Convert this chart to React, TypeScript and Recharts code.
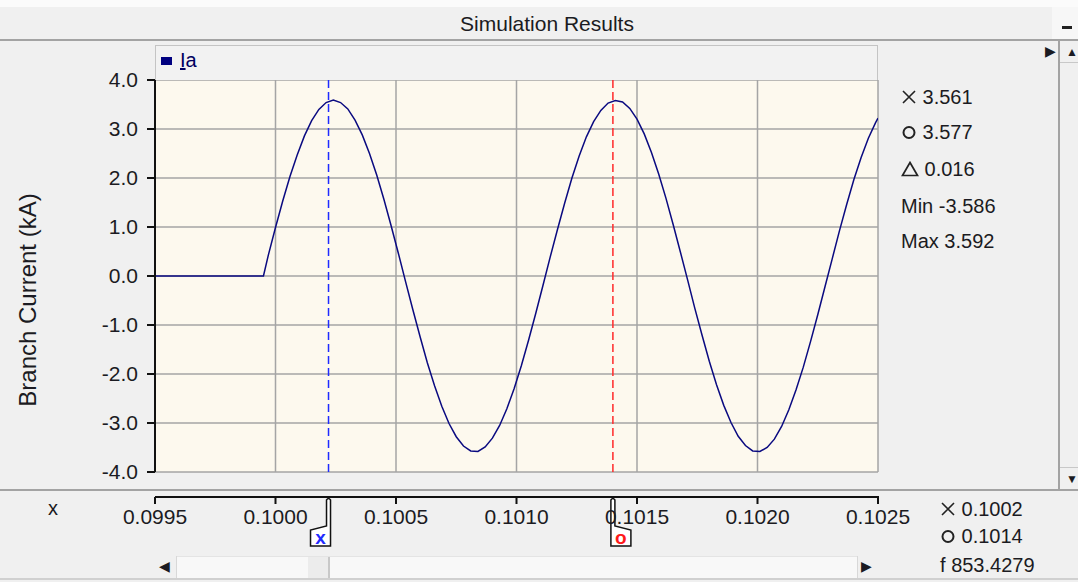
import React from "react";
import {
  LineChart,
  Line,
  XAxis,
  YAxis,
  CartesianGrid,
  ReferenceLine,
  Legend,
} from "recharts";

// time axis (s)
const timeS = [
  0.0995, 0.09995, 0.09997, 0.1, 0.10003, 0.10006, 0.10009, 0.10012, 0.10015,
  0.10018, 0.10021, 0.10024, 0.10027, 0.1003, 0.10033, 0.10036, 0.10039,
  0.10042, 0.10045, 0.10048, 0.10051, 0.10054, 0.10057, 0.1006, 0.10063,
  0.10066, 0.10069, 0.10072, 0.10075, 0.10078, 0.10081, 0.10084, 0.10087,
  0.1009, 0.10093, 0.10096, 0.10099, 0.10102, 0.10105, 0.10108, 0.10111,
  0.10114, 0.10117, 0.1012, 0.10123, 0.10126, 0.10129, 0.10132, 0.10135,
  0.10138, 0.10141, 0.10144, 0.10147, 0.1015, 0.10153, 0.10156, 0.10159,
  0.10162, 0.10165, 0.10168, 0.10171, 0.10174, 0.10177, 0.1018, 0.10183,
  0.10186, 0.10189, 0.10192, 0.10195, 0.10198, 0.10201, 0.10204, 0.10207,
  0.1021, 0.10213, 0.10216, 0.10219, 0.10222, 0.10225, 0.10228, 0.10231,
  0.10234, 0.10237, 0.1024, 0.10243, 0.10246, 0.10249, 0.1025,
];

// Ia branch current (kA)
const currentKA = [
  0, 0, 0.42, 0.99, 1.53, 2.03, 2.47, 2.86, 3.17, 3.4, 3.54, 3.59, 3.54, 3.41,
  3.18, 2.88, 2.5, 2.06, 1.56, 1.02, 0.46, -0.12, -0.69, -1.24, -1.77, -2.24,
  -2.66, -3.01, -3.28, -3.47, -3.57, -3.58, -3.49, -3.31, -3.05, -2.71, -2.3,
  -1.83, -1.31, -0.76, -0.19, 0.39, 0.95, 1.49, 2.0, 2.45, 2.84, 3.15, 3.38,
  3.53, 3.58, 3.55, 3.42, 3.2, 2.9, 2.52, 2.08, 1.59, 1.05, 0.49, -0.08,
  -0.66, -1.21, -1.74, -2.22, -2.64, -2.99, -3.27, -3.46, -3.57, -3.58, -3.5,
  -3.33, -3.07, -2.73, -2.32, -1.86, -1.34, -0.79, -0.22, 0.35, 0.92, 1.46,
  1.97, 2.42, 2.81, 3.13, 3.22,
];

const xTicks = [0.0995, 0.1, 0.1005, 0.101, 0.1015, 0.102, 0.1025];
const yTicks = [-4, -3, -2, -1, 0, 1, 2, 3, 4];

// cursor positions: x cursor and o cursor
const cursorX = 0.10022;
const cursorO = 0.1014;

const valueReadouts = [
  ["cross", "3.561"],
  ["circle", "3.577"],
  ["delta", "0.016"],
  ["Min", "-3.586"],
  ["Max", "3.592"],
];
const timeReadouts = [
  ["cross", "0.1002"],
  ["circle", "0.1014"],
  ["f", "853.4279"],
];

const data = timeS.map((t, i) => ({ t, Ia: currentKA[i] }));

const FONT = '"Liberation Sans", Arial, sans-serif';
const TXT = "#1b1b22";
const EDGE = "#a3a3a3";

function Glyph({ kind }: { kind: string }) {
  if (kind === "cross")
    return (
      <svg width={16} height={16} style={{ verticalAlign: "-1px" }}>
        <path d="M2,2 L14,14 M14,2 L2,14" stroke="#222" strokeWidth={1.6} />
      </svg>
    );
  if (kind === "circle")
    return (
      <svg width={16} height={16} style={{ verticalAlign: "-1px" }}>
        <circle cx={8} cy={8.5} r={5.5} fill="none" stroke="#222" strokeWidth={2} />
      </svg>
    );
  if (kind === "delta")
    return (
      <svg width={18} height={16} style={{ verticalAlign: "-1px" }}>
        <path d="M9,1.5 L16.5,14.5 L1.5,14.5 Z" fill="none" stroke="#222" strokeWidth={1.7} />
      </svg>
    );
  return <span>{kind}</span>;
}

function XTick({ x, y, payload }: any) {
  const y0 = y + 25;
  return (
    <g>
      <line x1={x} x2={x} y1={y0} y2={y0 + 7} stroke="#111" strokeWidth={2} />
      <text
        x={x}
        y={y0 + 27}
        textAnchor="middle"
        fontSize={21}
        fontFamily={FONT}
        fill={TXT}
      >
        {Number(payload.value).toFixed(4)}
      </text>
    </g>
  );
}

function CursorFlag({ viewBox, color, glyph, side }: any) {
  if (!viewBox) return null;
  const x = viewBox.x;
  const top = viewBox.y + viewBox.height + 26;
  const d =
    side < 0
      ? `M${x - 2},${top + 2} Q${x},${top - 1} ${x + 2},${top + 2} L${x + 2},${top + 48} L${x - 18},${top + 48} L${x - 18},${top + 32} L${x - 2},${top + 28} Z`
      : `M${x - 2},${top + 2} Q${x},${top - 1} ${x + 2},${top + 2} L${x + 2},${top + 28} L${x + 18},${top + 32} L${x + 18},${top + 48} L${x - 2},${top + 48} Z`;
  return (
    <g>
      <path d={d} fill="#ffffff" stroke="#111" strokeWidth={1.5} />
      <text
        x={x + side * 8}
        y={top + 46}
        textAnchor="middle"
        fontSize={19}
        fontWeight="bold"
        fontFamily={FONT}
        fill={color}
      >
        {glyph}
      </text>
    </g>
  );
}

function YLabel() {
  return (
    <text
      x={27}
      y={300}
      transform="rotate(-90 27 300)"
      textAnchor="middle"
      dominantBaseline="central"
      fontSize={24}
      fontFamily={FONT}
      fill={TXT}
    >
      Branch Current (kA)
    </text>
  );
}

function LegendStrip() {
  return (
    <div
      style={{
        width: 721,
        height: 34,
        background: "#f2f2f2",
        border: "1px solid #c4c4c4",
        borderBottom: "none",
        position: "relative",
        fontFamily: FONT,
      }}
    >
      <div
        style={{
          position: "absolute",
          left: 5,
          top: 11,
          width: 11,
          height: 8,
          background: "#000080",
        }}
      />
      <div
        style={{
          position: "absolute",
          left: 24,
          top: 3,
          fontSize: 20,
          color: "#000060",
        }}
      >
        <span style={{ textDecoration: "underline" }}>I</span>a
      </div>
    </div>
  );
}

const abs = (s: React.CSSProperties): React.CSSProperties => ({
  position: "absolute",
  ...s,
});

export default function App() {
  return (
    <div
      style={abs({
        left: 0,
        top: 0,
        width: 1078,
        height: 582,
        background: "#f0f0f0",
        overflow: "hidden",
        fontFamily: FONT,
        color: TXT,
      })}
    >
      {/* window chrome */}
      <div style={abs({ left: 0, top: 0, width: 1078, height: 7, background: "#fbfbfb" })} />
      <div style={abs({ left: 0, top: 39, width: 1078, height: 2, background: EDGE })} />
      <div
        style={abs({
          left: 0,
          top: 8,
          width: 1094,
          height: 31,
          lineHeight: "31px",
          textAlign: "center",
          fontSize: 21,
        })}
      >
        Simulation Results
      </div>
      <div style={abs({ left: 1052, top: 7, width: 26, height: 32, background: "#f7f7f7" })} />
      <div style={abs({ left: 1062, top: 26, width: 10, height: 3, background: "#222" })} />
      <div style={abs({ left: 1058, top: 41, width: 2, height: 449, background: EDGE })} />
      <div style={abs({ left: 1060, top: 62, width: 18, height: 1, background: "#c8c8c8" })} />
      <div style={abs({ left: 1060, top: 467, width: 18, height: 1, background: "#c8c8c8" })} />
      <div style={abs({ left: 1066, top: 45, fontSize: 12 })}>{"\u25b2"}</div>
      <div style={abs({ left: 1066, top: 472, fontSize: 12 })}>{"\u25bc"}</div>
      <div style={abs({ left: 1045, top: 43, fontSize: 14 })}>{"\u25b6"}</div>
      <div style={abs({ left: 0, top: 489, width: 1078, height: 2, background: EDGE })} />

      {/* separate time axis line */}
      <div style={abs({ left: 155, top: 496, width: 724, height: 2, background: "#111" })} />
      <div style={abs({ left: 48, top: 497, fontSize: 20 })}>x</div>

      {/* horizontal scrollbar */}
      <div
        style={abs({
          left: 154,
          top: 556,
          width: 724,
          height: 21,
          background: "#f8f8f8",
          borderTop: "1px solid #e4e4e4",
        })}
      />
      <div style={abs({ left: 154, top: 556, width: 22, height: 22, background: "#f0f0f0", borderRight: "1px solid #d8d8d8" })} />
      <div style={abs({ left: 159, top: 558, fontSize: 14 })}>{"\u25c0"}</div>
      <div style={abs({ left: 308, top: 557, width: 20, height: 21, background: "#ececec", borderRight: "2px solid #c8c8c8" })} />
      <div style={abs({ left: 857, top: 556, width: 21, height: 22, background: "#f0f0f0", borderLeft: "1px solid #d8d8d8" })} />
      <div style={abs({ left: 861, top: 558, fontSize: 14 })}>{"\u25b6"}</div>
      <div style={abs({ left: 0, top: 578, width: 1078, height: 2, background: "#d0d0d0" })} />

      {/* readouts */}
      {valueReadouts.map(([g, v], i) => (
        <div
          key={i}
          style={abs({
            left: 901,
            top: [86, 121, 158, 195, 230][i],
            fontSize: 20,
            whiteSpace: "pre",
          })}
        >
          <Glyph kind={g} /> {v}
        </div>
      ))}
      {timeReadouts.map(([g, v], i) => (
        <div
          key={i}
          style={abs({
            left: 940,
            top: [498, 525, 554][i],
            fontSize: 20,
            whiteSpace: "pre",
          })}
        >
          <Glyph kind={g} /> {v}
        </div>
      ))}

      <div style={abs({ left: 0, top: 0 })}>
        <LineChart
          width={1078}
          height={582}
          data={data}
          margin={{ top: 80, right: 200, bottom: 50, left: 60 }}
        >
          <CartesianGrid
            stroke="#a5a5a5"
            strokeWidth={1.5}
            fill="#fdf9ee"
            fillOpacity={1}
          />
          <XAxis
            dataKey="t"
            type="number"
            domain={[0.0995, 0.1025]}
            ticks={xTicks}
            allowDataOverflow
            height={60}
            axisLine={false}
            tickLine={false}
            tickSize={0}
            tickMargin={0}
            tick={<XTick />}
            interval={0}
          />
          <YAxis
            type="number"
            domain={[-4, 4]}
            ticks={yTicks}
            width={95}
            interval={0}
            tickFormatter={(v) => Number(v).toFixed(1)}
            tick={{ fontSize: 21, fill: TXT, fontFamily: FONT }}
            axisLine={{ stroke: "#111", strokeWidth: 2 }}
            tickLine={{ stroke: "#111", strokeWidth: 2 }}
            tickSize={8}
            tickMargin={9}
            label={<YLabel />}
          />
          <Legend
            layout="horizontal"
            verticalAlign="middle"
            align="center"
            content={<LegendStrip />}
            wrapperStyle={{ position: "absolute", left: 155, top: 45, width: 723, height: 35 }}
          />
          <ReferenceLine
            x={cursorX}
            stroke="#1f2bff"
            strokeWidth={1.5}
            strokeDasharray="8 4"
            label={<CursorFlag color="#1f2bff" glyph="x" side={-1} />}
          />
          <ReferenceLine
            x={cursorO}
            stroke="#ff2a2a"
            strokeWidth={1.5}
            strokeDasharray="8 4"
            label={<CursorFlag color="#ff1a1a" glyph="o" side={1} />}
          />
          <Line
            type="linear"
            dataKey="Ia"
            stroke="#0a0a80"
            strokeWidth={1.5}
            dot={false}
            isAnimationActive={false}
          />
        </LineChart>
      </div>
    </div>
  );
}
